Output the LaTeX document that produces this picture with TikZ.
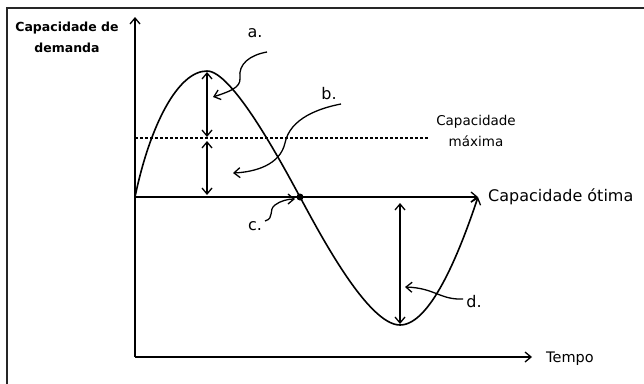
\documentclass[tikz,border=0pt]{standalone}
\usepackage{fontspec}
\setmainfont{DejaVu Sans}
\usetikzlibrary{arrows.meta}
\begin{document}
\begin{tikzpicture}[x=1pt,y=-1pt,
  ln/.style={line width=1.6pt,black},
  tip/.style={-{Straight Barb[length=6pt,width=10pt,line width=1.3pt]}},
  dtip/.style={{Straight Barb[length=6pt,width=10pt,line width=1.3pt]}-{Straight Barb[length=6pt,width=10pt,line width=1.3pt]}},
  lbl/.style={font=\fontsize{16}{16}\selectfont,inner sep=0pt},
  axl/.style={font=\bfseries\fontsize{12.5}{21}\selectfont,inner sep=0pt,align=center},
]
\useasboundingbox (0,0) rectangle (644,383);
\fill[white] (0,0) rectangle (644,383);
\draw[line width=2pt,black!85] (7,390) -- (7,8) -- (650,8);

% axes
\coordinate (O) at (135,357);
\coordinate (Ytop) at (135,17);
\coordinate (Xend) at (532,357);
\coordinate (S) at (135,197);
\coordinate (Oend) at (478,197);
\coordinate (Mstart) at (135,138);
\coordinate (Mend) at (429,138);
\draw[ln,tip] (O) -- (Ytop);
\draw[ln,tip] (O) -- (Xend);
\draw[ln,tip] (S) -- (Oend);
\draw[line width=1.3pt,dash pattern=on 3pt off 2pt] (Mstart) -- (Mend);

% curve
\coordinate (P) at (207,71);
\coordinate (X) at (300,197);
\coordinate (Mn) at (400,325);
\draw[ln,tip] (S) .. controls (150,125) and (178,71) .. (P)
  .. controls (232,71) and (280,160) .. (X)
  .. controls (320,234) and (368,325) .. (Mn)
  .. controls (432,325) and (462,245) .. (Oend);
\node[circle,fill=black,inner sep=0pt,minimum size=7pt] (dot) at (X) {};

% double arrows
\coordinate (a1) at (207,72);
\coordinate (a2) at (207,137);
\coordinate (a3) at (207,141);
\coordinate (a4) at (207,195);
\coordinate (d1) at (400,203);
\coordinate (d2) at (400,324);
\draw[ln,dtip] (a1) -- (a2);
\draw[ln,dtip] (a3) -- (a4);
\draw[ln,dtip] (d1) -- (d2);

% labels
\node[lbl] (la) at (255,33) {a.};
\node[lbl] (lb) at (329,94) {b.};
\node[lbl] (lc) at (255,226) {c.};
\node[lbl] (ld) at (474,302) {d.};

% wiggly arrows
\coordinate (ta) at (267,52);
\coordinate (ea) at (213,97);
\draw[line width=1.3pt,tip] (ta) .. controls (250,55) and (238,64) .. (240,78)
  .. controls (241,88) and (228,92) .. (ea);
\coordinate (tb) at (341,104);
\coordinate (eb) at (233,173);
\draw[line width=1.3pt,tip] (tb) .. controls (320,108) and (290,118) .. (285,143)
  .. controls (280,165) and (255,172) .. (eb);
\coordinate (tc) at (265,221);
\coordinate (ec) at (295,199);
\draw[line width=1.3pt,tip] (tc) .. controls (275,218) and (268,210) .. (275,205)
  .. controls (280,201) and (288,199) .. (ec);
\coordinate (td) at (463,299);
\coordinate (ed) at (405,287);
\draw[line width=1.3pt,tip] (td) .. controls (440,300) and (435,288) .. (ed);

% axis texts
\node[axl] (ylab) at (67,37) {Capacidade de\\demanda};
\node[inner sep=0pt,align=center,font=\fontsize{13.5}{21}\selectfont] (mlab) at (476,131) {Capacidade\\máxima};
\node[anchor=west,inner sep=0pt,font=\fontsize{16}{16}\selectfont] (olab) at (488,197) {Capacidade ótima};
\node[anchor=west,inner sep=0pt,font=\fontsize{14.5}{16}\selectfont] (tlab) at (546,359) {Tempo};
\end{tikzpicture}
\end{document}
